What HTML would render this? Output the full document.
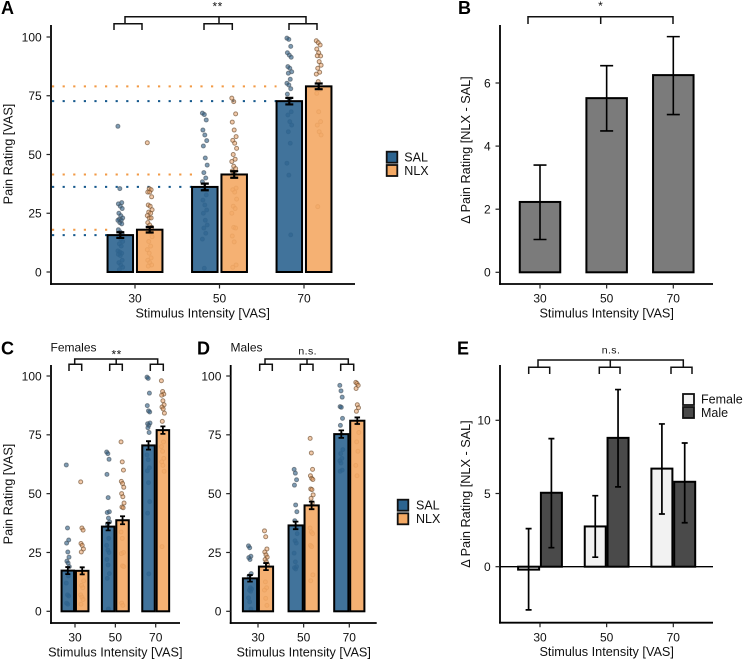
<!DOCTYPE html>
<html lang="en">
<head>
<meta charset="utf-8">
<title>Pain rating by stimulus intensity</title>
<style>
html,body{margin:0;padding:0;background:#fff}
svg{display:block;filter:blur(.3px)}
text{font-family:"Liberation Sans",Arial,sans-serif;fill:#111}
.tick{font-size:12px}
.title{font-size:12.7px;text-anchor:middle}
.panel{font-size:18px;font-weight:bold;fill:#000}
.leg{font-size:12.5px}
.sig{font-size:12px;text-anchor:middle;letter-spacing:.5px}
.ns{font-size:10.5px;text-anchor:middle;letter-spacing:.4px}
.br{fill:none;stroke:#111;stroke-width:1.5}
</style>
</head>
<body>
<svg id="figure" xmlns="http://www.w3.org/2000/svg" width="744" height="662" viewBox="0 0 744 662">
<rect width="744" height="662" fill="#fff"/>

<text class="panel" x="1" y="14">A</text>
<text class="panel" x="458" y="14">B</text>
<text class="panel" x="1" y="354.5">C</text>
<text class="panel" x="197" y="354.5">D</text>
<text class="panel" x="457" y="354.5">E</text>

<text class="tick" x="50.5" y="351.5">Females</text>
<text class="tick" x="230.5" y="351.5">Males</text>

<g>
<path class="br" d="M125 23.7V16.7H306V23.7M114 30V23.7H142V30M219 23.7V16.7M204 30V23.7H232.3V30M289 30V23.7H317V30"/>
<text class="sig" x="217.7" y="10.5">**</text>
</g>
<g>
<path class="br" d="M528 24V16.7H673V24M600.7 16.7V24"/>
<text class="sig" x="600.7" y="10">*</text>
</g>
<g>
<path class="br" d="M74.7 364.3V359H157.7V364.3M69 371V364.3H81.7V371M116.2 359V364.3M109.7 371V364.3H122.3V371M150.3 371V364.3H163.3V371"/>
<text class="sig" x="116.7" y="358.5">**</text>
</g>
<g>
<path class="br" d="M265 364.3V359H348.3V364.3M259.7 371V364.3H272.3V371M307 359V364.3M300.3 371V364.3H313V371M340.7 371V364.3H353.7V371"/>
<text class="ns" x="307.7" y="354.3">n.s.</text>
</g>
<g>
<path class="br" d="M538 367.3V360H683.3V367.3M528.7 374V367.3H549.7V374M610.3 360V367.3M599.3 374V367.3H620V374M671 374V367.3H692V374"/>
<text class="ns" x="611" y="353.3">n.s.</text>
</g>

<g>
<rect x="386.7" y="151.7" width="10.6" height="11" fill="#2c6490" stroke="#111" stroke-width="1.8"/>
<rect x="386.7" y="165" width="10.6" height="11" fill="#f4a964" stroke="#111" stroke-width="1.8"/>
<text class="leg" x="404.3" y="161.5">SAL</text>
<text class="leg" x="404.3" y="175">NLX</text>
</g>
<g>
<rect x="397.7" y="499.7" width="10.6" height="11" fill="#2c6490" stroke="#111" stroke-width="1.8"/>
<rect x="397.7" y="513.3" width="10.6" height="11" fill="#f4a964" stroke="#111" stroke-width="1.8"/>
<text class="leg" x="416" y="509.5">SAL</text>
<text class="leg" x="416" y="523">NLX</text>
</g>
<g>
<rect x="683" y="394" width="11" height="11" fill="#f2f2f2" stroke="#111" stroke-width="1.8"/>
<rect x="683" y="407" width="11" height="11" fill="#4a4a4a" stroke="#111" stroke-width="1.8"/>
<text class="leg" x="701" y="403.5">Female</text>
<text class="leg" x="701" y="417">Male</text>
</g>

<script>
// ---------- shared categories and tick labels ----------
const stimulusCategories = ['30', '50', '70'];
const ratingTicks = [0, 25, 50, 75, 100];
const deltaTicksB = [0, 2, 4, 6];
const deltaTicksE = [0, 5, 10];

// ---------- panel A means, SEM ----------
const aSalMeans = [15.7, 36.2, 72.7];
const aNlxMeans = [18, 41.5, 79];
const aSalErrors = [1.2, 1.4, 1.4];
const aNlxErrors = [1.2, 1.4, 1.2];
// panel A individual ratings
const aSal30 = [62, 35.5, 29.5, 29, 28, 27, 25, 24, 23, 22.5, 22, 22, 21, 20.5, 18, 17, 16, 15, 14, 13, 12, 11, 9, 8.5, 8, 7.5, 7, 5, 4, 3, 2, 1];
const aNlx30 = [55, 35.5, 35, 34, 34, 32, 28.5, 28, 26.5, 25.5, 25, 24, 23, 23, 21, 20, 19, 18, 17, 15, 13, 11, 9.5, 8, 6, 5, 4, 3, 2.5];
const aSal50 = [67.6, 67, 64.7, 60.4, 58.3, 55.9, 53.6, 48.5, 45.5, 42.3, 40, 38.4, 35.7, 32.8, 30.6, 28.5, 26.4, 25, 22, 20, 18.7, 16.5, 14, 1.6];
const aNlx50 = [74, 72.5, 67.3, 63.8, 60.4, 57.6, 56, 54.8, 52.6, 50, 48, 47, 45, 44, 43, 42, 35.7, 35, 34, 31, 28, 27, 25, 19, 18.7, 15.3, 12.8, 3, 2];
const aSal70 = [99.5, 99, 96, 93.3, 92.3, 91.4, 87.4, 86.7, 85.2, 84.6, 82, 80.3, 79.6, 78, 75.7, 73.4, 68.2, 66.8, 64, 62.5, 59.7, 54.8, 46.3, 41.2, 15.8];
const aNlx70 = [98.4, 97.6, 96.6, 94.9, 93.3, 91.9, 92, 89.5, 88, 86.7, 85, 84.2, 81, 77.7, 76, 68.2, 64, 62.5, 59.7, 58.3, 27.8];

// ---------- panel B ----------
const bDeltaMeans = [2.23, 5.52, 6.25];
const bDeltaLow = [1.04, 4.48, 5.0];
const bDeltaHigh = [3.4, 6.55, 7.47];

// ---------- panel C (females) ----------
const cSalMeans = [17.3, 36, 70.5];
const cNlxMeans = [17.2, 38.7, 77];
const cSalErrors = [1.5, 1.6, 1.8];
const cNlxErrors = [1.5, 1.7, 1.6];
const cSal30 = [62.2, 35.4, 30.3, 29, 25.2, 23, 21.3, 20.5, 19, 16.3, 15, 12, 7, 6.5, 3.5, 3];
const cNlx30 = [55, 35.4, 34.5, 28.8, 28, 26.5, 25.2, 16, 13, 11, 10, 7, 6, 5, 3];
const cSal50 = [67.7, 67, 64.6, 58.2, 48.3, 42.3, 42, 39.6, 38, 37, 31, 28, 26, 25, 22, 19.7, 16, 14, 1];
const cNlx50 = [72, 63.5, 60, 55.2, 54.3, 52.7, 50, 48.7, 46, 44.3, 44, 33.7, 31, 25, 24.5, 19.3, 19, 3.5, 2.5];
const cSal70 = [99.5, 99, 92.7, 87.4, 85.2, 84.7, 79.7, 79, 80, 78, 76, 66.5, 64.4, 61, 59.7, 54.7, 46.6, 41.7, 15.9];
const cNlx70 = [98, 93.4, 92.3, 91.8, 89.5, 87.8, 86.8, 86, 84.2, 80.7, 72, 70, 68, 65, 63.5, 62, 59.5, 27.5];

// ---------- panel D (males) ----------
const dSalMeans = [14, 36.5, 75.3];
const dNlxMeans = [19, 45, 81];
const dSalErrors = [1.4, 1.6, 1.6];
const dNlxErrors = [1.5, 1.6, 1.4];
const dSal30 = [27.8, 27, 23.4, 22.8, 22, 16, 15, 10, 9.5, 9, 8.5, 5.7, 4, 1];
const dNlx30 = [34.2, 31.7, 26.5, 25.2, 24, 23, 22, 21, 20, 12.5, 10, 9, 5.5, 2.5];
const dSal50 = [60.3, 58.7, 55.9, 53.6, 45.2, 42.3, 38.5, 36, 33, 30, 29, 24.7, 21, 19, 18.5, 18];
const dNlx50 = [73.5, 67.3, 60.3, 57.6, 56.5, 56, 52, 51.7, 49.5, 48, 46, 35.4, 33.7, 33, 28, 27.5, 15.5, 13];
const dSal70 = [96, 93.7, 91, 87, 86.7, 82, 79, 75, 68.7, 67, 65, 64, 63, 60, 59.5];
const dNlx70 = [97.3, 96.8, 96, 94.7, 87.8, 86.5, 85, 80, 76, 72, 68, 62, 57.6];

// ---------- panel E ----------
const eFemaleMeans = [-0.2, 2.75, 6.7];
const eMaleMeans = [5.05, 8.8, 5.8];
const eFemaleLow = [-2.95, 0.65, 3.6];
const eFemaleHigh = [2.6, 4.85, 9.75];
const eMaleLow = [1.3, 5.45, 3.0];
const eMaleHigh = [8.75, 12.1, 8.45];

// ---------- helpers ----------
const NS = 'http://www.w3.org/2000/svg';
const root = document.getElementById('figure');
const SAL = '#2c6490', NLX = '#f4a964';

function shape(tag, attrs) {
  const n = document.createElementNS(NS, tag);
  for (const k in attrs) n.setAttribute(k, attrs[k]);
  root.appendChild(n);
  return n;
}
function makeLinear(v0, p0, v1, p1) {
  return v => p0 + (v - v0) * (p1 - p0) / (v1 - v0);
}
// deterministic sideways spread so that points do not overlap exactly
function spread(i) {
  return ((i * 37) % 11 - 5) / 5;
}

function drawAxes(name, xPos, yPos, yTicks, box, titles) {
  const yAxis = shape('line', {x1: box.left, x2: box.left, y1: box.top, y2: box.bottom + .9, stroke: '#000', 'stroke-width': 1.8});
  
  
  const xAxis = shape('line', {x1: box.left - .9, x2: box.right, y1: box.bottom, y2: box.bottom, stroke: '#000', 'stroke-width': 1.8});
  
  
  yTicks.forEach(t => {
    const m = shape('line', {x1: box.left - 4.5, x2: box.left, y1: yPos(t), y2: yPos(t), stroke: '#222', 'stroke-width': 1.2});
    
    
    const l = shape('text', {x: box.left - 9.3, y: yPos(t) + 4.3, 'text-anchor': 'end', class: 'tick'});
    l.textContent = t;
    
    
  });
  stimulusCategories.forEach((c, i) => {
    const m = shape('line', {x1: xPos(i), x2: xPos(i), y1: box.bottom, y2: box.bottom + 4.5, stroke: '#222', 'stroke-width': 1.2});
    
    
    const l = shape('text', {x: xPos(i), y: box.bottom + 18.7, 'text-anchor': 'middle', class: 'tick'});
    l.textContent = c;
    
    
  });
  const xt = shape('text', {x: titles.xCenter, y: box.bottom + 33.5, class: 'title'});
  xt.textContent = 'Stimulus Intensity [VAS]';
  
  
  if (titles.y) {
    const yt = shape('text', {x: titles.yBase, y: titles.yCenter, class: 'title', transform: 'rotate(-90 ' + titles.yBase + ' ' + titles.yCenter + ')'});
    yt.textContent = titles.y;
    
    
  }
}

function drawPoints(name, values, cx, yPos, jitterPx, isSal) {
  values.forEach((v, i) => {
    const p = shape('circle', {
      cx: cx + spread(i) * jitterPx, cy: yPos(v), r: 2,
      fill: isSal ? 'rgba(40,90,130,.6)' : 'rgba(230,150,85,.5)',
      stroke: isSal ? 'rgba(80,90,100,.65)' : 'rgba(110,80,50,.65)', 'stroke-width': 1
    });
    
    
  });
}

function drawBar(name, cx, width, value, yPos, fill, fillOpacity, strokeW) {
  const top = Math.min(yPos(value), yPos(0));
  const b = shape('rect', {
    x: cx - width / 2, y: top, width: width, height: Math.abs(yPos(0) - yPos(value)),
    fill: fill, 'fill-opacity': fillOpacity, stroke: '#000', 'stroke-width': strokeW
  });
  
  
}

function drawError(name, cx, capW, low, high, yPos, strokeW) {
  const e = shape('path', {
    d: 'M' + (cx - capW / 2) + ' ' + yPos(high) + 'H' + (cx + capW / 2) +
       'M' + cx + ' ' + yPos(high) + 'V' + yPos(low) +
       'M' + (cx - capW / 2) + ' ' + yPos(low) + 'H' + (cx + capW / 2),
    fill: 'none', stroke: '#000', 'stroke-width': strokeW
  });
  
  
}

function drawDrugPanel(name, geom, salMeans, nlxMeans, salErr, nlxErr, salPts, nlxPts, box, titles) {
  const xPos = makeLinear(0, geom.x30, 2, geom.x70);
  const yPos = makeLinear(0, geom.y0, 100, geom.y100);
  if (geom.guides) {
    stimulusCategories.forEach((c, i) => {
      const g1 = shape('line', {x1: box.left + 1, x2: xPos(i) - geom.off - geom.w / 2, y1: yPos(nlxMeans[i]), y2: yPos(nlxMeans[i]), stroke: '#f29a45', 'stroke-width': 2, 'stroke-dasharray': '2.2 8.4'});
      
      
      const g2 = shape('line', {x1: box.left + 1, x2: xPos(i) - geom.off - geom.w / 2, y1: yPos(salMeans[i]), y2: yPos(salMeans[i]), stroke: '#14588c', 'stroke-width': 2, 'stroke-dasharray': '2.2 8.4'});
      
      
    });
  }
  stimulusCategories.forEach((c, i) => {
    const sx = xPos(i) - geom.off, nx = xPos(i) + geom.off;
    drawPoints(name + '-sal-' + c, salPts[i], sx, yPos, geom.jit, true);
    drawPoints(name + '-nlx-' + c, nlxPts[i], nx, yPos, geom.jit, false);
    drawBar(name + '-bar-sal-' + c, sx, geom.w, salMeans[i], yPos, SAL, .9, geom.sw);
    drawBar(name + '-bar-nlx-' + c, nx, geom.w, nlxMeans[i], yPos, NLX, .9, geom.sw);
    drawError(name + '-error-sal-' + c, sx, geom.cap, salMeans[i] - salErr[i], salMeans[i] + salErr[i], yPos, geom.ew);
    drawError(name + '-error-nlx-' + c, nx, geom.cap, nlxMeans[i] - nlxErr[i], nlxMeans[i] + nlxErr[i], yPos, geom.ew);
  });
  drawAxes(name, xPos, yPos, ratingTicks, box, titles);
}

// ---------- panel A ----------
drawDrugPanel('panel-a',
  {x30: 135, x70: 304, y0: 272, y100: 37, off: 14.7, w: 25.5, cap: 8, jit: 2.4, sw: 2, ew: 2.2, guides: true},
  aSalMeans, aNlxMeans, aSalErrors, aNlxErrors,
  [aSal30, aSal50, aSal70], [aNlx30, aNlx50, aNlx70],
  {left: 51, right: 355, top: 25, bottom: 284},
  {xCenter: 202.7, yBase: 12.5, yCenter: 154, y: 'Pain Rating [VAS]'});

// ---------- panel C ----------
drawDrugPanel('panel-c',
  {x30: 75, x70: 155.7, y0: 611.3, y100: 376, off: 7.2, w: 12.5, cap: 5, jit: 1.5, sw: 2, ew: 1.8, guides: false},
  cSalMeans, cNlxMeans, cSalErrors, cNlxErrors,
  [cSal30, cSal50, cSal70], [cNlx30, cNlx50, cNlx70],
  {left: 51, right: 180, top: 365, bottom: 623},
  {xCenter: 115.3, yBase: 12.5, yCenter: 494, y: 'Pain Rating [VAS]'});

// ---------- panel D ----------
drawDrugPanel('panel-d',
  {x30: 258, x70: 349.3, y0: 611.3, y100: 376, off: 8, w: 14.2, cap: 5.5, jit: 1.5, sw: 2, ew: 1.8, guides: false},
  dSalMeans, dNlxMeans, dSalErrors, dNlxErrors,
  [dSal30, dSal50, dSal70], [dNlx30, dNlx50, dNlx70],
  {left: 230.7, right: 376.7, top: 365, bottom: 623},
  {xCenter: 303.7, yBase: 12.5, yCenter: 494, y: ''});

// ---------- panel B ----------
(function () {
  const xPos = makeLinear(0, 540, 2, 673.3);
  const yPos = makeLinear(0, 272.3, 6, 83);
  stimulusCategories.forEach((c, i) => {
    drawBar('panel-b-bar-' + c, xPos(i), 40.5, bDeltaMeans[i], yPos, '#7b7b7b', 1, 2);
    drawError('panel-b-error-' + c, xPos(i), 13, bDeltaLow[i], bDeltaHigh[i], yPos, 1.6);
  });
  drawAxes('panel-b', xPos, yPos, deltaTicksB, {left: 500, right: 713, top: 25, bottom: 284},
    {xCenter: 606.7, yBase: 470, yCenter: 150, y: 'Δ Pain Rating [NLX - SAL]'});
})();

// ---------- panel E ----------
(function () {
  const xPos = makeLinear(0, 540, 2, 673.3);
  const yPos = makeLinear(0, 566.7, 10, 420.3);
  stimulusCategories.forEach((c, i) => {
    drawBar('panel-e-bar-female-' + c, xPos(i) - 11.4, 21, eFemaleMeans[i], yPos, '#f2f2f2', 1, 2);
    drawBar('panel-e-bar-male-' + c, xPos(i) + 11.4, 21, eMaleMeans[i], yPos, '#4a4a4a', 1, 2);
    drawError('panel-e-error-female-' + c, xPos(i) - 11.4, 6, eFemaleLow[i], eFemaleHigh[i], yPos, 1.7);
    drawError('panel-e-error-male-' + c, xPos(i) + 11.4, 6, eMaleLow[i], eMaleHigh[i], yPos, 1.7);
  });
  const zero = shape('line', {x1: 500, x2: 713, y1: yPos(0), y2: yPos(0), stroke: '#000', 'stroke-width': 1.4});
  
  
  drawAxes('panel-e', xPos, yPos, deltaTicksE, {left: 500, right: 713, top: 365, bottom: 622.7},
    {xCenter: 606.7, yBase: 470, yCenter: 494, y: 'Δ Pain Rating [NLX - SAL]'});
})();
</script>
</svg>
</body>
</html>
